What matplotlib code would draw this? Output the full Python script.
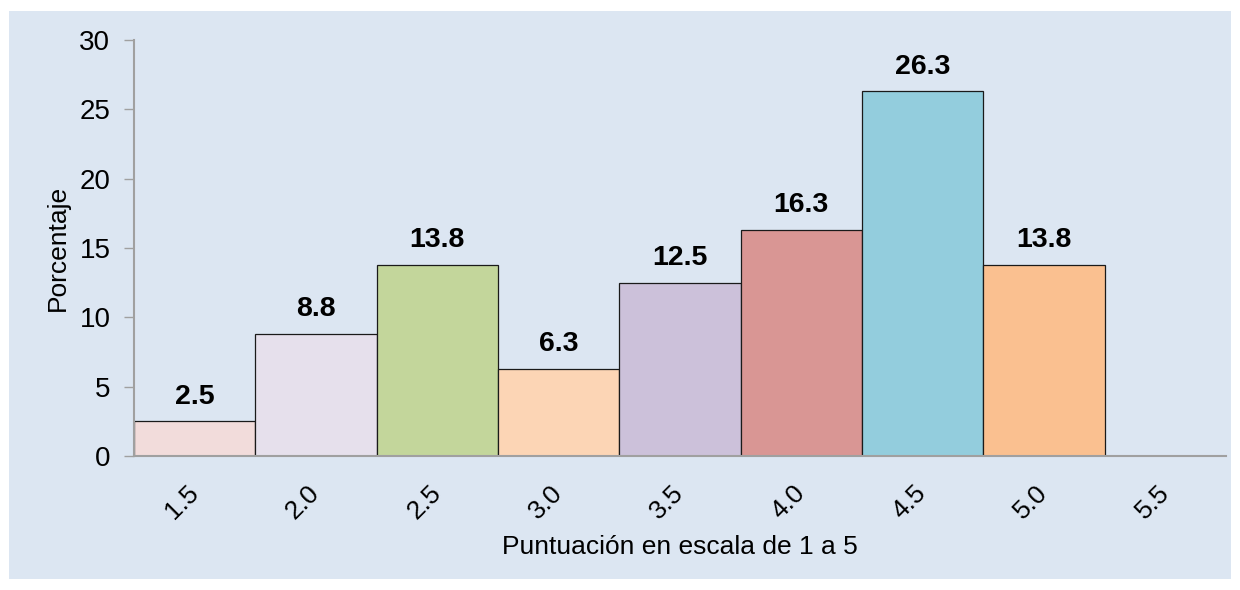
import matplotlib
matplotlib.use("Agg")
import matplotlib.pyplot as plt
from matplotlib.patches import Rectangle

categories = ["1.5", "2.0", "2.5", "3.0", "3.5", "4.0", "4.5", "5.0", "5.5"]
values = [2.5, 8.8, 13.8, 6.3, 12.5, 16.3, 26.3, 13.8, None]
colors = ["#F2DCDB", "#E6E0EC", "#C3D69B", "#FCD5B5", "#CCC1DA", "#D99694", "#93CDDD", "#FAC090", "#FFFFFF"]
yticks = [0, 5, 10, 15, 20, 25, 30]

plt.rcParams['font.family'] = ['Liberation Sans', 'DejaVu Sans']

fig = plt.figure(figsize=(12.4, 5.9), dpi=100, facecolor="white")
bg = "#DCE6F2"
fig.patches.append(Rectangle((9/1240, 11/590), (1231-9)/1240, (579-11)/590,
                             transform=fig.transFigure, facecolor=bg, edgecolor="none", zorder=-10))

ax = fig.add_axes([134/1240, 1-456/590, (1226-134)/1240, (456-40)/590])
ax.set_facecolor("none")
ax.set_zorder(5)

xs = list(range(len(categories)))
for x, v, c in zip(xs, values, colors):
    if v is None:
        continue
    ax.bar(x, v, width=1.0, color=c, edgecolor="#1a1a1a", linewidth=0.9, zorder=2)
    ax.text(x, v + 0.85, f"{v:.1f}", ha="center", va="bottom", fontsize=20.5, fontweight="bold", color="black")

ax.set_xlim(-0.5, len(categories) - 0.5)
ax.set_ylim(0, 30)
ax.set_yticks(yticks)
ax.set_xticks(xs)
ax.set_xticklabels(categories, rotation=45, ha="right", va="center", rotation_mode="anchor", fontsize=19)
ax.tick_params(axis="x", length=0, pad=24)
ax.tick_params(axis="y", length=7, width=1, color="#A0A0A0", labelsize=20, pad=10)

for s in ["top", "right"]:
    ax.spines[s].set_visible(False)
for s in ["left", "bottom"]:
    ax.spines[s].set_color("#A0A0A0")
    ax.spines[s].set_linewidth(1.5)

ax.set_xlabel("Puntuación en escala de 1 a 5", fontsize=19, labelpad=8)
ylab = ax.set_ylabel("Porcentaje", fontsize=19)
ylab.set_va("center")
ax.yaxis.set_label_coords((58 - 134) / 1092, 0.5)

fig.savefig("out.png", dpi=100, facecolor="white")
